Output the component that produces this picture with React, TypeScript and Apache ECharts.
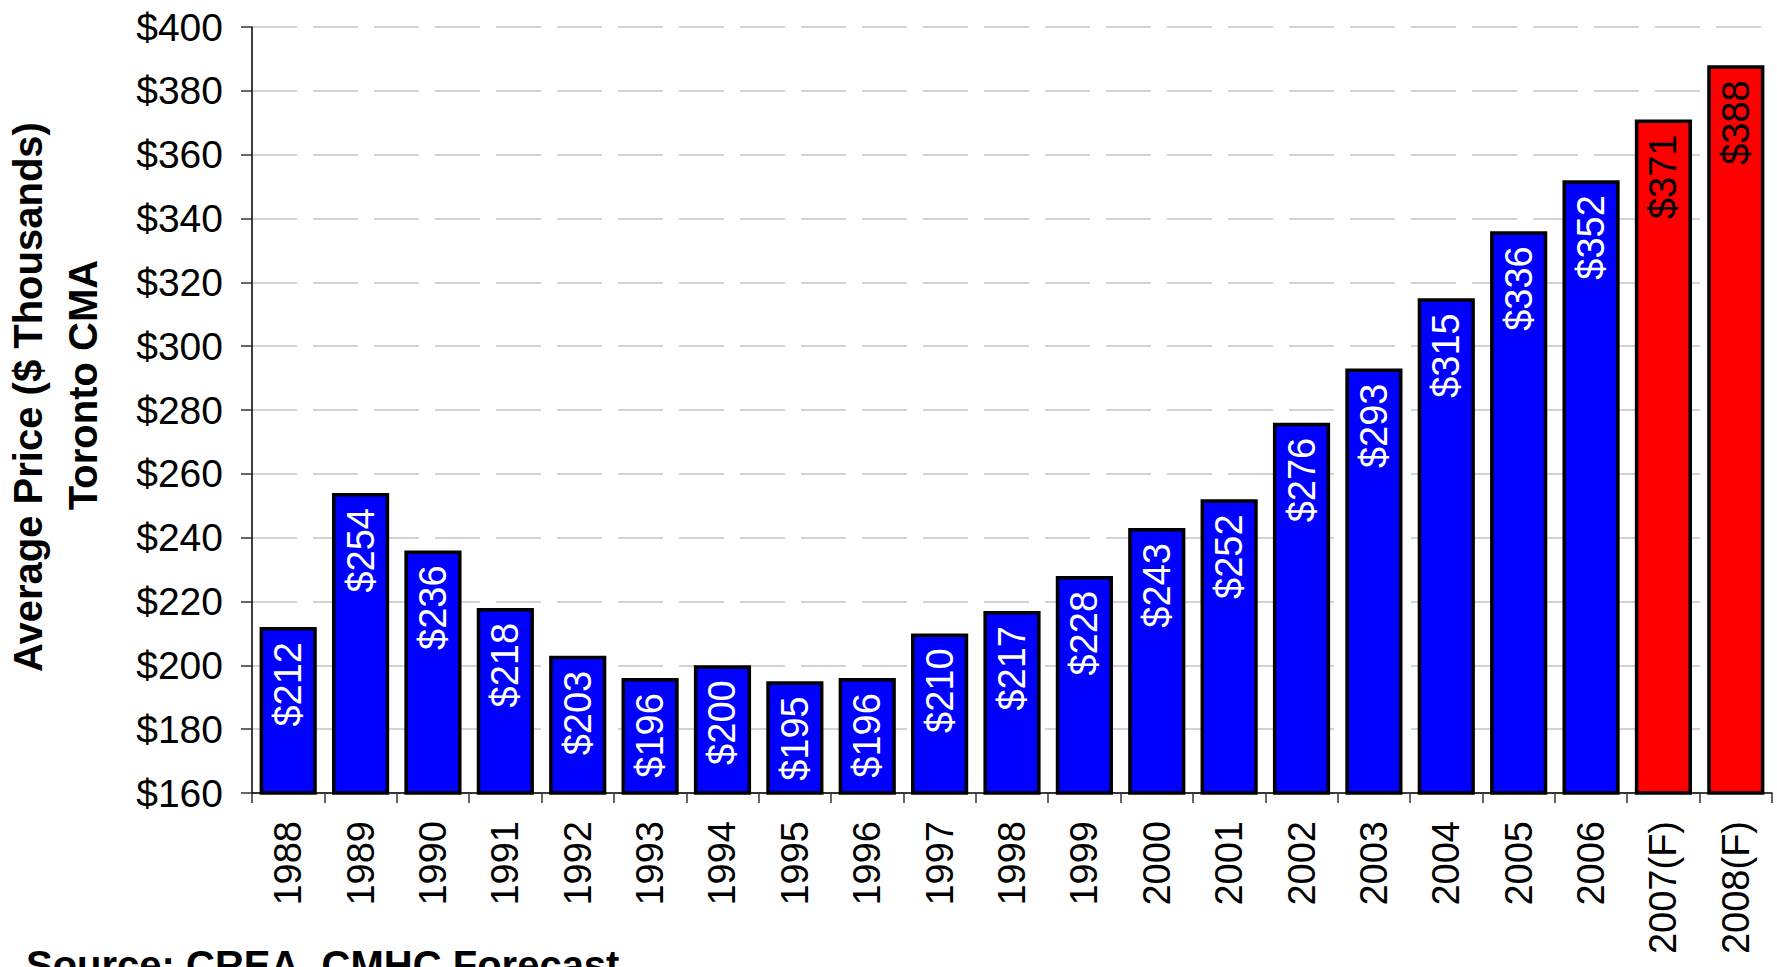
import { useEffect, useRef } from "react";
import * as echarts from "echarts";

// Average resale price, Toronto CMA ($ thousands); last two years are forecasts
const years = [
  "1988", "1989", "1990", "1991", "1992", "1993", "1994", "1995", "1996", "1997",
  "1998", "1999", "2000", "2001", "2002", "2003", "2004", "2005", "2006",
  "2007(F)", "2008(F)",
];
const prices = [
  212, 254, 236, 218, 203, 196, 200, 195, 196, 210,
  217, 228, 243, 252, 276, 293, 315, 336, 352,
  371, 388,
];
const forecast = years.map((y) => y.includes("(F)"));

const yMin = 160;
const yMax = 400;
const yStep = 20;

const FONT = "'Liberation Sans', Arial, Helvetica, sans-serif";

export default function App() {
  const ref = useRef<HTMLDivElement>(null);

  useEffect(() => {
    if (!ref.current) return;
    const chart = echarts.init(ref.current, null, { renderer: "svg" });

    const data = prices.map((v, i) => ({
      value: v,
      itemStyle: { color: forecast[i] ? "#ff0000" : "#0000ff" },
      label: { color: forecast[i] ? "#000000" : "#ffffff" },
    }));

    chart.setOption({
      animation: false,
      backgroundColor: "#ffffff",
      textStyle: { fontFamily: FONT },
      grid: { left: 252, right: 5, top: 27, bottom: 174, containLabel: false },
      xAxis: {
        type: "category",
        data: years,
        axisLine: { show: true, lineStyle: { color: "#000", width: 1.5 } },
        axisTick: { show: true, length: 10, lineStyle: { color: "#333", width: 1.5 } },
        axisLabel: {
          interval: 0,
          rotate: 90,
          margin: 28,
          fontSize: 38,
          color: "#000",
          fontFamily: FONT,
        },
        splitLine: { show: false },
      },
      yAxis: {
        type: "value",
        min: yMin,
        max: yMax,
        interval: yStep,
        axisLine: { show: true, lineStyle: { color: "#000", width: 1.5 } },
        axisTick: { show: true, length: 11, lineStyle: { color: "#333", width: 1.5 } },
        axisLabel: {
          margin: 29,
          fontSize: 39,
          color: "#000",
          fontFamily: FONT,
          formatter: (v: number) => "$" + v,
        },
        splitLine: {
          show: true,
          lineStyle: { color: "#c4c4c4", width: 1.5, type: [45, 16] },
        },
      },
      series: [
        {
          type: "bar",
          data,
          barWidth: "79%",
          itemStyle: { borderColor: "#000", borderWidth: 3.5 },
          label: {
            show: true,
            position: "insideTop",
            rotate: 90,
            align: "right",
            verticalAlign: "middle",
            distance: 15,
            fontSize: 38,
            fontFamily: FONT,
            formatter: (p: any) => "$" + p.value,
          },
        },
      ],
      graphic: [
        {
          type: "text",
          x: 28,
          y: 397,
          rotation: Math.PI / 2,
          style: {
            text: "Average Price ($ Thousands)",
            fontSize: 40,
            fontWeight: "bold",
            fontFamily: FONT,
            fill: "#000",
            align: "center",
            verticalAlign: "middle",
          },
        },
        {
          type: "text",
          x: 83,
          y: 385,
          rotation: Math.PI / 2,
          style: {
            text: "Toronto CMA",
            fontSize: 40,
            fontWeight: "bold",
            fontFamily: FONT,
            fill: "#000",
            align: "center",
            verticalAlign: "middle",
          },
        },
        {
          type: "text",
          x: 26,
          y: 945,
          style: {
            text: "Source: CREA, CMHC Forecast",
            fontSize: 40,
            fontWeight: "bold",
            fontFamily: FONT,
            fill: "#000",
            align: "left",
            verticalAlign: "top",
          },
        },
      ],
    });

    return () => chart.dispose();
  }, []);

  return (
    <div
      ref={ref}
      style={{ position: "absolute", left: 0, top: 0, width: 1777, height: 967 }}
    />
  );
}
